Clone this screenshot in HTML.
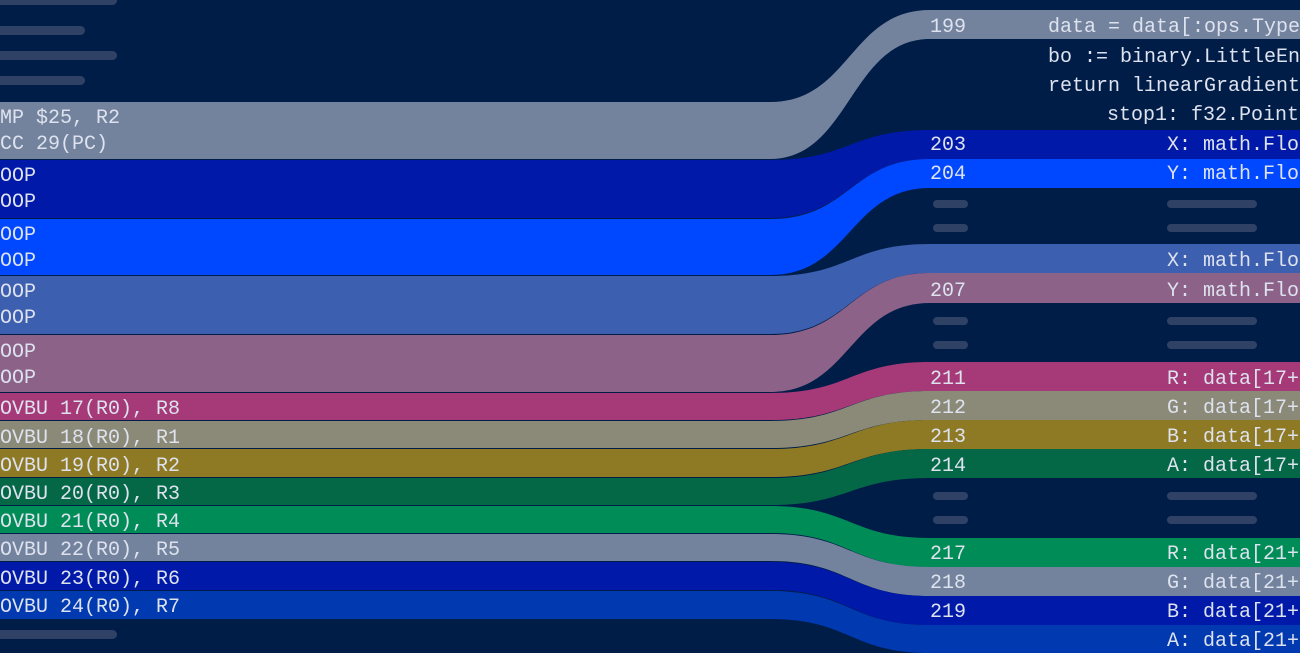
<!DOCTYPE html>
<html><head><meta charset="utf-8"><style>
html,body{margin:0;padding:0;background:#001d48;}
svg{display:block}
text{font-family:"Liberation Mono",monospace;font-size:20px;fill:#dde2ee;}
</style></head><body>
<svg width="1300" height="653" viewBox="0 0 1300 653" xmlns="http://www.w3.org/2000/svg">
<rect width="1300" height="653" fill="#001d48"/>
<g fill="#2f4266">
<rect x="-10" y="-4" width="127" height="9" rx="4.5"/>
<rect x="-10" y="26" width="95" height="9" rx="4.5"/>
<rect x="-10" y="51" width="127" height="9" rx="4.5"/>
<rect x="-10" y="76" width="95" height="9" rx="4.5"/>
<rect x="-10" y="630" width="127" height="9" rx="4.5"/>
<rect x="933" y="200" width="35" height="8" rx="4"/><rect x="1167" y="200" width="90" height="8" rx="4"/>
<rect x="933" y="224" width="35" height="8" rx="4"/><rect x="1167" y="224" width="90" height="8" rx="4"/>
<rect x="933" y="317" width="35" height="8" rx="4"/><rect x="1167" y="317" width="90" height="8" rx="4"/>
<rect x="933" y="341" width="35" height="8" rx="4"/><rect x="1167" y="341" width="90" height="8" rx="4"/>
<rect x="933" y="492" width="35" height="8" rx="4"/><rect x="1167" y="492" width="90" height="8" rx="4"/>
<rect x="933" y="516" width="35" height="8" rx="4"/><rect x="1167" y="516" width="90" height="8" rx="4"/>
</g>
<g>
<path fill="#73839e" d="M0,102 H770 C850,102 850,10 930,10 H1300 V39 H930 C850,39 850,159 770,159 H0 Z"/>
<path fill="#0019a8" d="M0,160 H770 C850,160 850,130 930,130 H1300 V159 H930 C850,159 850,218 770,218 H0 Z"/>
<path fill="#0048ff" d="M0,219 H770 C850,219 850,159 930,159 H1300 V188 H930 C850,188 850,275 770,275 H0 Z"/>
<path fill="#3c5faf" d="M0,276 H770 C850,276 850,244 930,244 H1300 V273 H930 C850,273 850,334 770,334 H0 Z"/>
<path fill="#8d6289" d="M0,335 H770 C850,335 850,273 930,273 H1300 V303 H930 C850,303 850,392 770,392 H0 Z"/>
<path fill="#a63a78" d="M0,393 H770 C850,393 850,362 930,362 H1300 V391 H930 C850,391 850,420 770,420 H0 Z"/>
<path fill="#8b8a78" d="M0,421 H770 C850,421 850,391 930,391 H1300 V420 H930 C850,420 850,448 770,448 H0 Z"/>
<path fill="#8e7a25" d="M0,449 H770 C850,449 850,420 930,420 H1300 V449 H930 C850,449 850,477 770,477 H0 Z"/>
<path fill="#046847" d="M0,478 H770 C850,478 850,449 930,449 H1300 V478 H930 C850,478 850,505 770,505 H0 Z"/>
<path fill="#008c57" d="M0,506 H770 C850,506 850,538 930,538 H1300 V567 H930 C850,567 850,533 770,533 H0 Z"/>
<path fill="#73839e" d="M0,534 H770 C850,534 850,567 930,567 H1300 V596 H930 C850,596 850,561 770,561 H0 Z"/>
<path fill="#0019a8" d="M0,562 H770 C850,562 850,596 930,596 H1300 V625 H930 C850,625 850,590 770,590 H0 Z"/>
<path fill="#0039b0" d="M0,591 H770 C850,591 850,625 930,625 H1300 V653 H930 C850,653 850,619 770,619 H0 Z"/>
</g>
<g>
<text x="-12" y="123">CMP $25, R2</text>
<text x="-12" y="149">BCC 29(PC)</text>
<text x="-12" y="181">LOOP</text><text x="-12" y="207">LOOP</text>
<text x="-12" y="240">LOOP</text><text x="-12" y="266">LOOP</text>
<text x="-12" y="297">LOOP</text><text x="-12" y="323">LOOP</text>
<text x="-12" y="357">LOOP</text><text x="-12" y="383">LOOP</text>
<text x="-12" y="414">MOVBU 17(R0), R8</text>
<text x="-12" y="443">MOVBU 18(R0), R1</text>
<text x="-12" y="471">MOVBU 19(R0), R2</text>
<text x="-12" y="499">MOVBU 20(R0), R3</text>
<text x="-12" y="527">MOVBU 21(R0), R4</text>
<text x="-12" y="555">MOVBU 22(R0), R5</text>
<text x="-12" y="584">MOVBU 23(R0), R6</text>
<text x="-12" y="612">MOVBU 24(R0), R7</text>
</g>
<g>
<text x="930" y="32">199</text><text x="1048" y="32">data = data[:ops.TypeLen]</text>
<text x="1048" y="62">bo := binary.LittleEndian</text>
<text x="1048" y="91">return linearGradientOp{</text>
<text x="1107" y="120">stop1: f32.Point{</text>
<text x="930" y="150">203</text><text x="1167" y="150">X: math.Float32</text>
<text x="930" y="179">204</text><text x="1167" y="179">Y: math.Float32</text>
<text x="1167" y="266">X: math.Float32</text>
<text x="930" y="296">207</text><text x="1167" y="296">Y: math.Float32</text>
<text x="930" y="384">211</text><text x="1167" y="384">R: data[17+</text>
<text x="930" y="413">212</text><text x="1167" y="413">G: data[17+</text>
<text x="930" y="442">213</text><text x="1167" y="442">B: data[17+</text>
<text x="930" y="471">214</text><text x="1167" y="471">A: data[17+</text>
<text x="930" y="559">217</text><text x="1167" y="559">R: data[21+</text>
<text x="930" y="588">218</text><text x="1167" y="588">G: data[21+</text>
<text x="930" y="617">219</text><text x="1167" y="617">B: data[21+</text>
<text x="1167" y="646">A: data[21+</text>
</g>
</svg>
</body></html>
